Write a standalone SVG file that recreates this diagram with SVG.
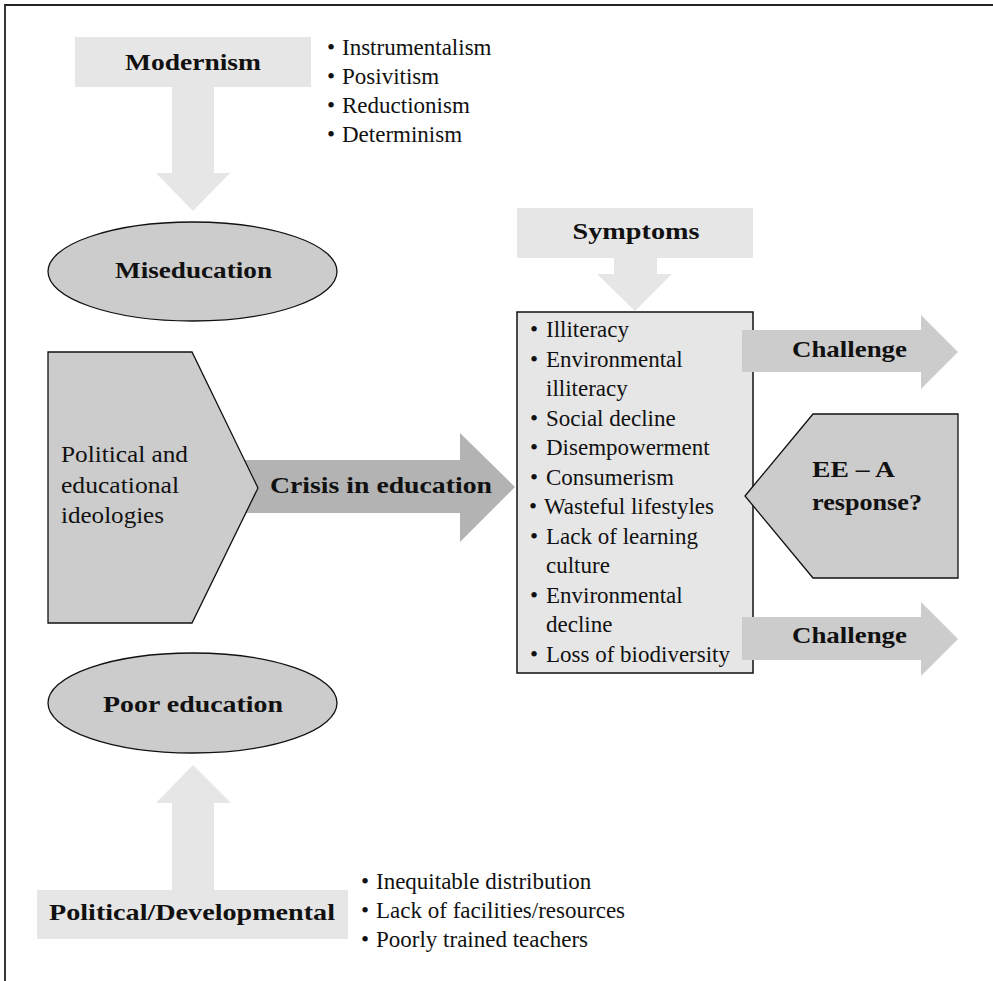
<svg xmlns="http://www.w3.org/2000/svg" width="993" height="981" viewBox="0 0 993 981">
  <style>
    .lt { fill: #e6e6e6; stroke: none; }
    .md { fill: #cccccc; stroke: none; }
    .mdo { fill: #cccccc; stroke: #111; stroke-width: 1.3; }
    .dk { fill: #b3b3b3; stroke: none; }
    .box { fill: #e6e6e6; stroke: #111; stroke-width: 1.5; }
    .b { font-family: "Liberation Serif", "Times New Roman", serif; font-weight: bold; font-size: 23.5px; fill: #111; }
    .r { font-family: "Liberation Serif", "Times New Roman", serif; font-size: 23px; fill: #111; }
    .c { text-anchor: middle; }
  </style>

  <!-- frame -->
  <path d="M5,981 V5 H993" fill="none" stroke="#222" stroke-width="1.8"/>

  <g id="connectors">
    <!-- Modernism -> Miseducation -->
    <polygon class="lt" points="172,86 214,86 214,173 230,173 193,211 156,173 172,173"/>
    <!-- Symptoms -> list -->
    <polygon class="lt" points="614,257 657,257 657,274 672,274 635,311 597,274 614,274"/>
    <!-- Political/Developmental -> Poor education -->
    <polygon class="lt" points="172,891 214,891 214,803 231,803 193,765 156,803 172,803"/>
  </g>

  <g id="crisis">
    <polygon class="dk" points="230,460 460,460 460,433 515,487 460,542 460,513 230,513"/>
    <text class="b c" x="381" y="493" textLength="222" lengthAdjust="spacingAndGlyphs">Crisis in education</text>
  </g>

  <g id="modernism">
    <rect class="lt" x="75" y="37" width="236" height="50"/>
    <text class="b c" x="193" y="70" textLength="136" lengthAdjust="spacingAndGlyphs">Modernism</text>
  </g>

  <g id="modernism-list">
    <text class="r" x="327" y="55">•</text><text class="r" x="342" y="55">Instrumentalism</text>
    <text class="r" x="327" y="84">•</text><text class="r" x="342" y="84">Posivitism</text>
    <text class="r" x="327" y="113">•</text><text class="r" x="342" y="113">Reductionism</text>
    <text class="r" x="327" y="142">•</text><text class="r" x="342" y="142">Determinism</text>
  </g>

  <g id="miseducation">
    <ellipse class="mdo" cx="192.5" cy="271.5" rx="144.5" ry="49.5"/>
    <text class="b c" x="193.5" y="278" textLength="157" lengthAdjust="spacingAndGlyphs">Miseducation</text>
  </g>

  <g id="ideologies">
    <polygon class="mdo" points="48,352 192,352 258,488 192,623 48,623"/>
    <text class="r" x="61" y="462" textLength="127" lengthAdjust="spacingAndGlyphs">Political and</text>
    <text class="r" x="61" y="493" textLength="118" lengthAdjust="spacingAndGlyphs">educational</text>
    <text class="r" x="61" y="523" textLength="103" lengthAdjust="spacingAndGlyphs">ideologies</text>
  </g>

  <g id="symptoms">
    <rect class="lt" x="517" y="208" width="236" height="50"/>
    <text class="b c" x="636" y="239" textLength="127" lengthAdjust="spacingAndGlyphs">Symptoms</text>
  </g>

  <g id="symptoms-list">
    <rect class="box" x="517" y="312" width="236" height="361"/>
    <text class="r" x="530" y="337">•</text><text class="r" x="546" y="337">Illiteracy</text>
    <text class="r" x="530" y="366.5">•</text><text class="r" x="546" y="366.5">Environmental</text>
    <text class="r" x="546" y="396">illiteracy</text>
    <text class="r" x="530" y="425.5">•</text><text class="r" x="546" y="425.5">Social decline</text>
    <text class="r" x="530" y="455">•</text><text class="r" x="546" y="455">Disempowerment</text>
    <text class="r" x="530" y="484.5">•</text><text class="r" x="546" y="484.5">Consumerism</text>
    <text class="r" x="529" y="514">•</text><text class="r" x="544" y="514">Wasteful lifestyles</text>
    <text class="r" x="530" y="543.5">•</text><text class="r" x="546" y="543.5">Lack of learning</text>
    <text class="r" x="546" y="573">culture</text>
    <text class="r" x="530" y="602.5">•</text><text class="r" x="546" y="602.5">Environmental</text>
    <text class="r" x="546" y="632">decline</text>
    <text class="r" x="530" y="661.5">•</text><text class="r" x="546" y="661.5">Loss of biodiversity</text>
  </g>

  <g id="challenge-1">
    <polygon class="md" points="742,330 921,330 921,315 958,352 921,389 921,372 742,372"/>
    <text class="b c" x="849.5" y="357" textLength="115" lengthAdjust="spacingAndGlyphs">Challenge</text>
  </g>

  <g id="ee-response">
    <polygon class="mdo" points="745,496 813,414 958,414 958,578 813,578"/>
    <text class="b" x="812" y="477" textLength="83" lengthAdjust="spacingAndGlyphs">EE – A</text>
    <text class="b" x="812" y="510" textLength="110" lengthAdjust="spacingAndGlyphs">response?</text>
  </g>

  <g id="challenge-2">
    <polygon class="md" points="742,617 921,617 921,602 958,639 921,676 921,660 742,660"/>
    <text class="b c" x="849.5" y="643" textLength="115" lengthAdjust="spacingAndGlyphs">Challenge</text>
  </g>

  <g id="poor-education">
    <ellipse class="mdo" cx="192.5" cy="703" rx="144.5" ry="50"/>
    <text class="b c" x="193" y="712" textLength="180" lengthAdjust="spacingAndGlyphs">Poor education</text>
  </g>

  <g id="political-developmental">
    <rect class="lt" x="37" y="890" width="311" height="49"/>
    <text class="b c" x="192" y="920" textLength="286" lengthAdjust="spacingAndGlyphs">Political/Developmental</text>
  </g>

  <g id="political-list">
    <text class="r" x="361" y="889">•</text><text class="r" x="376" y="889">Inequitable distribution</text>
    <text class="r" x="361" y="918">•</text><text class="r" x="376" y="918">Lack of facilities/resources</text>
    <text class="r" x="361" y="947">•</text><text class="r" x="376" y="947">Poorly trained teachers</text>
  </g>
</svg>
